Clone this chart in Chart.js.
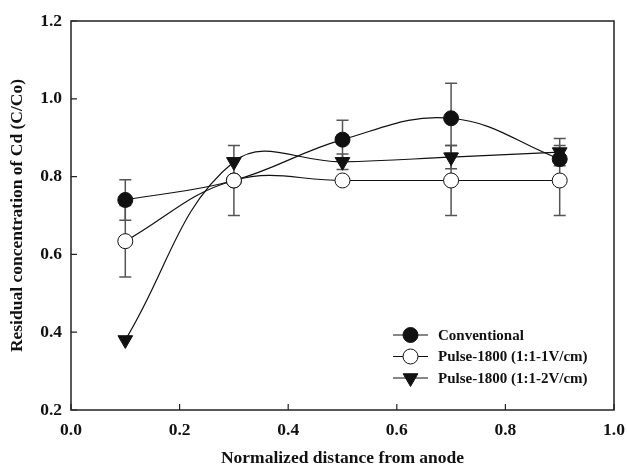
<!DOCTYPE html>
<html>
<head>
<meta charset="utf-8">
<script src="https://cdn.jsdelivr.net/npm/chart.js@4.4.0/dist/chart.umd.min.js"></script>
<style>
  html, body { margin: 0; padding: 0; background: #fff; }
  #wrap { width: 627px; height: 467px; }
</style>
</head>
<body>
<div id="wrap"><canvas id="chart"></canvas></div>
<script>
// values
const distance = [0.1, 0.3, 0.5, 0.7, 0.9];
const xTicks = [0.0, 0.2, 0.4, 0.6, 0.8, 1.0];
const yTicks = [0.2, 0.4, 0.6, 0.8, 1.0, 1.2];

const conventional = [0.74, 0.79, 0.895, 0.95, 0.845];
const conventionalErr = [0.052, 0.0, 0.05, 0.09, 0.0];

const pulse1V = [0.634, 0.79, 0.79, 0.79, 0.79];
const pulse1VErr = [0.092, 0.09, 0.0, 0.09, 0.09];

const pulse2V = [0.38, 0.838, 0.838, 0.85, 0.863];
const pulse2VErr = [0.0, 0.0, 0.02, 0.03, 0.035];

const labels = ['Conventional', 'Pulse-1800 (1:1-1V/cm)', 'Pulse-1800 (1:1-2V/cm)'];

const serif = '"Liberation Serif", "Times New Roman", serif';

function pts(ys) {
  return distance.map((x, i) => ({ x: x, y: ys[i] }));
}

// error bars, drawn under the markers
const errorBars = {
  id: 'errorBars',
  beforeDatasetsDraw(chart) {
    const ctx = chart.ctx;
    const xs = chart.scales.x, ys = chart.scales.y;
    ctx.save();
    ctx.strokeStyle = '#555';
    ctx.lineWidth = 1.5;
    chart.data.datasets.forEach(ds => {
      ds.data.forEach((p, i) => {
        const e = ds.errors[i];
        if (!e) return;
        const px = xs.getPixelForValue(p.x);
        const top = ys.getPixelForValue(p.y + e);
        const bot = ys.getPixelForValue(p.y - e);
        ctx.beginPath();
        ctx.moveTo(px, top); ctx.lineTo(px, bot);
        ctx.moveTo(px - 6, top); ctx.lineTo(px + 6, top);
        ctx.moveTo(px - 6, bot); ctx.lineTo(px + 6, bot);
        ctx.stroke();
      });
    });
    ctx.restore();
  }
};

// box frame + inward ticks + legend
const frame = {
  id: 'frame',
  afterDraw(chart) {
    const ctx = chart.ctx;
    const a = chart.chartArea;
    const xs = chart.scales.x, ys = chart.scales.y;
    ctx.save();
    ctx.strokeStyle = '#222';
    ctx.lineWidth = 1.5;
    ctx.strokeRect(a.left, a.top, a.right - a.left, a.bottom - a.top);
    ctx.lineWidth = 1.2;
    ctx.beginPath();
    xTicks.forEach(v => {
      const px = xs.getPixelForValue(v);
      ctx.moveTo(px, a.bottom); ctx.lineTo(px, a.bottom - 6);
    });
    yTicks.forEach(v => {
      const py = ys.getPixelForValue(v);
      ctx.moveTo(a.left, py); ctx.lineTo(a.left + 6, py);
    });
    ctx.stroke();

    // legend, in the order of the labels list
    ctx.font = 'bold 15px ' + serif;
    ctx.textBaseline = 'middle';
    ctx.textAlign = 'left';
    labels.forEach((lab, i) => {
      const ds = chart.data.datasets.find(d => d.label === lab);
      const y = 335 + i * 21.5;
      ctx.strokeStyle = '#111';
      ctx.lineWidth = 1.2;
      ctx.beginPath();
      ctx.moveTo(393, y); ctx.lineTo(428, y);
      ctx.stroke();
      ctx.fillStyle = ds.pointBackgroundColor;
      ctx.lineWidth = 1;
      Chart.helpers.drawPoint(ctx, {
        pointStyle: ds.pointStyle,
        radius: ds.pointRadius,
        rotation: ds.pointRotation || 0,
        borderWidth: 1
      }, 410.5, y);
      ctx.fillStyle = '#111';
      ctx.fillText(lab, 438, y + 1);
    });
    ctx.restore();
  }
};

new Chart(document.getElementById('chart'), {
  type: 'line',
  data: {
    datasets: [
      {
        label: labels[1],
        data: pts(pulse1V),
        errors: pulse1VErr,
        pointStyle: 'circle',
        pointRadius: 7.5,
        pointBackgroundColor: '#ffffff',
        order: 1
      },
      {
        label: labels[2],
        data: pts(pulse2V),
        errors: pulse2VErr,
        pointStyle: 'triangle',
        pointRadius: 8.5,
        pointRotation: 180,
        pointBackgroundColor: '#111111',
        order: 0
      },
      {
        label: labels[0],
        data: pts(conventional),
        errors: conventionalErr,
        pointStyle: 'circle',
        pointRadius: 7.5,
        pointBackgroundColor: '#111111',
        order: 2
      }
    ].map(ds => Object.assign({
      borderColor: '#111',
      borderWidth: 1.2,
      pointBorderColor: '#111',
      pointBorderWidth: 1,
      pointHoverRadius: ds.pointRadius,
      tension: 0.4,
      fill: false
    }, ds))
  },
  options: {
    responsive: true,
    maintainAspectRatio: false,
    animation: false,
    events: [],
    layout: { padding: { top: 21, right: 13, left: 0, bottom: 0 } },
    plugins: {
      legend: { display: false },
      tooltip: { enabled: false }
    },
    scales: {
      x: {
        type: 'linear',
        min: 0,
        max: 1,
        afterBuildTicks: s => { s.ticks = xTicks.map(v => ({ value: v })); },
        afterFit: s => { s.height = 57; s.paddingLeft = 0; s.paddingRight = 0; },
        grid: { display: false, drawTicks: false },
        border: { display: false },
        ticks: {
          padding: 10,
          color: '#111',
          font: { family: serif, size: 17.5, weight: 'bold' },
          callback: v => v.toFixed(1)
        },
        title: {
          display: true,
          text: 'Normalized distance from anode',
          color: '#111',
          font: { family: serif, size: 17.5, weight: 'bold', lineHeight: 1 },
          padding: { top: 0, bottom: 0 }
        }
      },
      y: {
        type: 'linear',
        min: 0.2,
        max: 1.2,
        afterBuildTicks: s => { s.ticks = yTicks.map(v => ({ value: v })); },
        afterFit: s => { s.width = 71; s.paddingTop = 0; s.paddingBottom = 0; },
        grid: { display: false, drawTicks: false },
        border: { display: false },
        ticks: {
          padding: 9,
          color: '#111',
          font: { family: serif, size: 17.5, weight: 'bold' },
          callback: v => v.toFixed(1)
        },
        title: {
          display: true,
          text: 'Residual concentration of Cd (C/Co)',
          color: '#111',
          font: { family: serif, size: 17.5, weight: 'bold', lineHeight: 1 },
          padding: { top: 9, bottom: 0 }
        }
      }
    }
  },
  plugins: [errorBars, frame]
});
</script>
</body>
</html>
